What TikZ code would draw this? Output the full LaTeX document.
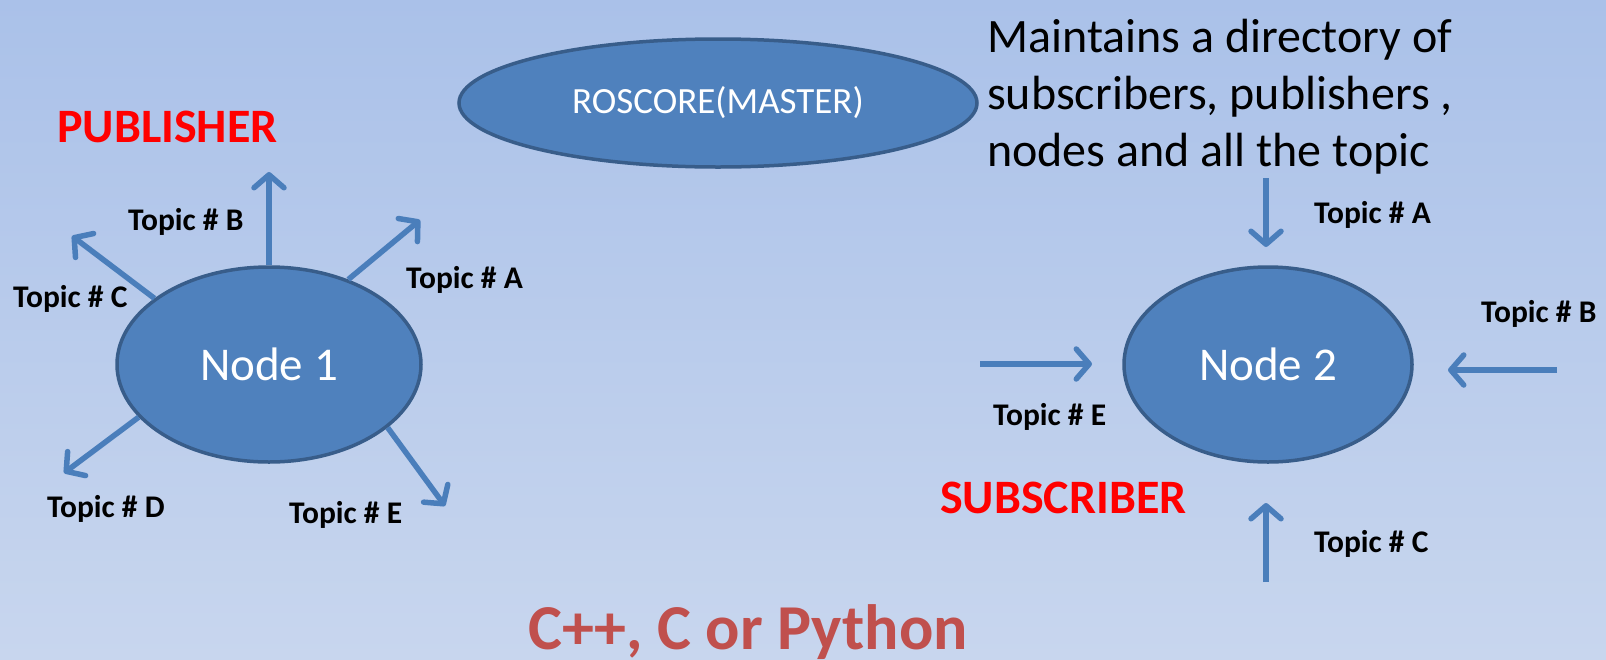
\documentclass[tikz,border=0pt]{standalone}
\usepackage{fontspec}
\setmainfont{Carlito}
\usetikzlibrary{shapes.geometric,arrows.meta}
\definecolor{bgtop}{RGB}{170,193,233}
\definecolor{bgbot}{RGB}{200,214,238}
\definecolor{ellfill}{RGB}{79,129,189}
\definecolor{elldraw}{RGB}{56,93,138}
\definecolor{arrowblue}{RGB}{74,126,187}
\definecolor{langred}{RGB}{192,80,77}
\tikzset{
  ell/.style={ellipse, fill=ellfill, draw=elldraw, line width=3.5pt, inner sep=0pt, text=white},
  topic/.style={anchor=base west, inner sep=0pt, font=\fontsize{31.5}{38}\selectfont\bfseries},
  role/.style={anchor=base west, inner sep=0pt, text=red, font=\fontsize{48}{57}\selectfont\bfseries},
  flow/.style={draw=arrowblue, line width=5.5pt, -{Straight Barb[length=13pt,width=30pt,line cap=round,line join=round]}},
}
\begin{document}
\begin{tikzpicture}[x=1pt,y=-1pt]
\shade[top color=bgtop, bottom color=bgbot] (0,0) rectangle (1606,659);
\useasboundingbox (0,0) rectangle (1606,659);

% master
\node[ell, minimum width=518pt, minimum height=128pt, font=\fontsize{37}{44}\selectfont] (master) at (718,103) {ROSCORE(MASTER)};
\node[anchor=base west, inner sep=0pt, font=\fontsize{48}{57}\selectfont] (desc) at (987,52)
  {\begin{tabular}[t]{@{}l@{}}Maintains a directory of\\subscribers, publishers ,\\nodes and all the topic\end{tabular}};

% node 1 (publisher)
\node[ell, minimum width=304pt, minimum height=195pt, font=\fontsize{47}{56}\selectfont] (n1) at (269,364.5) {Node 1};
\node[role] (pub) at (57,142) {PUBLISHER};
\coordinate (tA1) at (420,220);
\coordinate (tB1) at (269,172);
\coordinate (tC1) at (72,236);
\coordinate (tD1) at (64,473);
\coordinate (tE1) at (445,506);
\draw[flow] (n1.47) -- (tA1);
\draw[flow] (n1.north) -- (tB1);
\draw[flow] (n1.150) -- (tC1);
\draw[flow] (n1.202.5) -- (tD1);
\draw[flow] (n1.332) -- (tE1);
\node[topic] (lA1) at (406,288) {Topic \# A};
\node[topic] (lB1) at (128,230) {Topic \# B};
\node[topic] (lC1) at (13,307) {Topic \# C};
\node[topic] (lD1) at (47,517) {Topic \# D};
\node[topic] (lE1) at (289,523) {Topic \# E};

% node 2 (subscriber)
\node[ell, minimum width=288pt, minimum height=195pt, font=\fontsize{47}{56}\selectfont] (n2) at (1268,364.5) {Node 2};
\node[role] (sub) at (940,513) {SUBSCRIBER};
\coordinate (sA2) at (1266,178);
\coordinate (eA2) at (1266,247);
\coordinate (sB2) at (1557,370);
\coordinate (eB2) at (1448,370);
\coordinate (sE2) at (980,364);
\coordinate (eE2) at (1092,364);
\coordinate (sC2) at (1266,582);
\coordinate (eC2) at (1266,503);
\draw[flow] (sA2) -- (eA2);
\draw[flow] (sB2) -- (eB2);
\draw[flow] (sE2) -- (eE2);
\draw[flow] (sC2) -- (eC2);
\node[topic] (lA2) at (1314,223) {Topic \# A};
\node[topic] (lB2) at (1481,322) {Topic \# B};
\node[topic] (lE2) at (993,425) {Topic \# E};
\node[topic] (lC2) at (1314,552) {Topic \# C};

% languages
\node[anchor=base west, inner sep=0pt, text=langred, font=\fontsize{64}{77}\selectfont\bfseries] (lang) at (528,649) {C++, C or Python};
\end{tikzpicture}
\end{document}
